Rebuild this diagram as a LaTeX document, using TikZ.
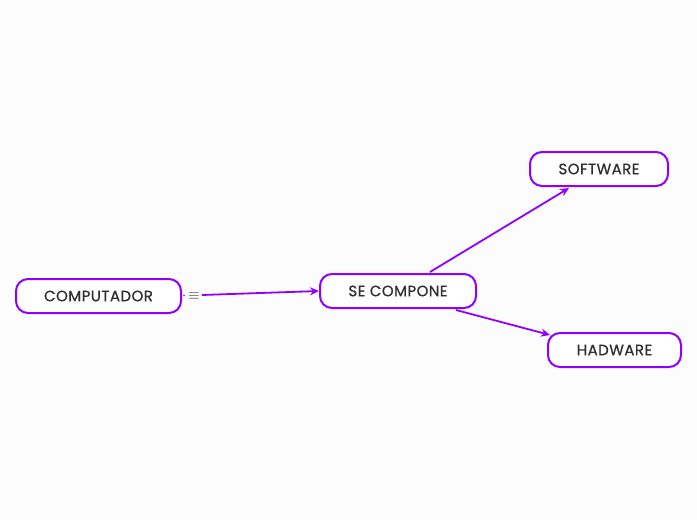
\documentclass[tikz,border=0pt]{standalone}
\usepackage{fontspec}
\setmainfont{Poppins}
\usetikzlibrary{calc,arrows.meta}
\definecolor{vio}{HTML}{8F00FF}
\definecolor{txt}{HTML}{2E2E2E}
\definecolor{bg}{HTML}{FCFCFC}
\begin{document}
\begin{tikzpicture}[x=1pt,y=-1pt,
  topic/.style={draw=vio,line width=2pt,rounded corners=12pt,fill=white,
    text=txt,font=\addfontfeatures{LetterSpace=3,FakeBold=0.6}\fontsize{15}{17}\selectfont,inner sep=0pt},
  link/.style={draw=vio,line width=1.8pt,-{Stealth[length=9pt,width=8pt]}}]
\fill[bg] (0,0) rectangle (697,520);
\useasboundingbox (0,0) rectangle (697,520);
\node[topic,minimum width=165pt,minimum height=34pt] (comp) at (98.5,296) {COMPUTADOR};
\node[topic,minimum width=156pt,minimum height=34pt] (se) at (398,291) {SE COMPONE};
\node[topic,minimum width=138pt,minimum height=34pt] (sw) at (599,169) {SOFTWARE};
\node[topic,minimum width=133pt,minimum height=34pt] (hw) at (614.5,350) {HADWARE};
\node[text=txt,inner sep=0pt,font=\Large] (mk) at (194,296.5) {$\equiv$};
\fill[vio] (184,295.5) circle (0.9pt);
\coordinate (m1) at ($(mk.east)+(2,-1.5)$);
\draw[link] (m1) -- (se.west);
\draw[link] ($(se.north)+(32,-1)$) -- ($(sw.south)+(-30,1)$);
\draw[link] ($(se.south)+(58,1)$) -- ($(hw.north west)+(3,3)$);
\end{tikzpicture}
\end{document}
